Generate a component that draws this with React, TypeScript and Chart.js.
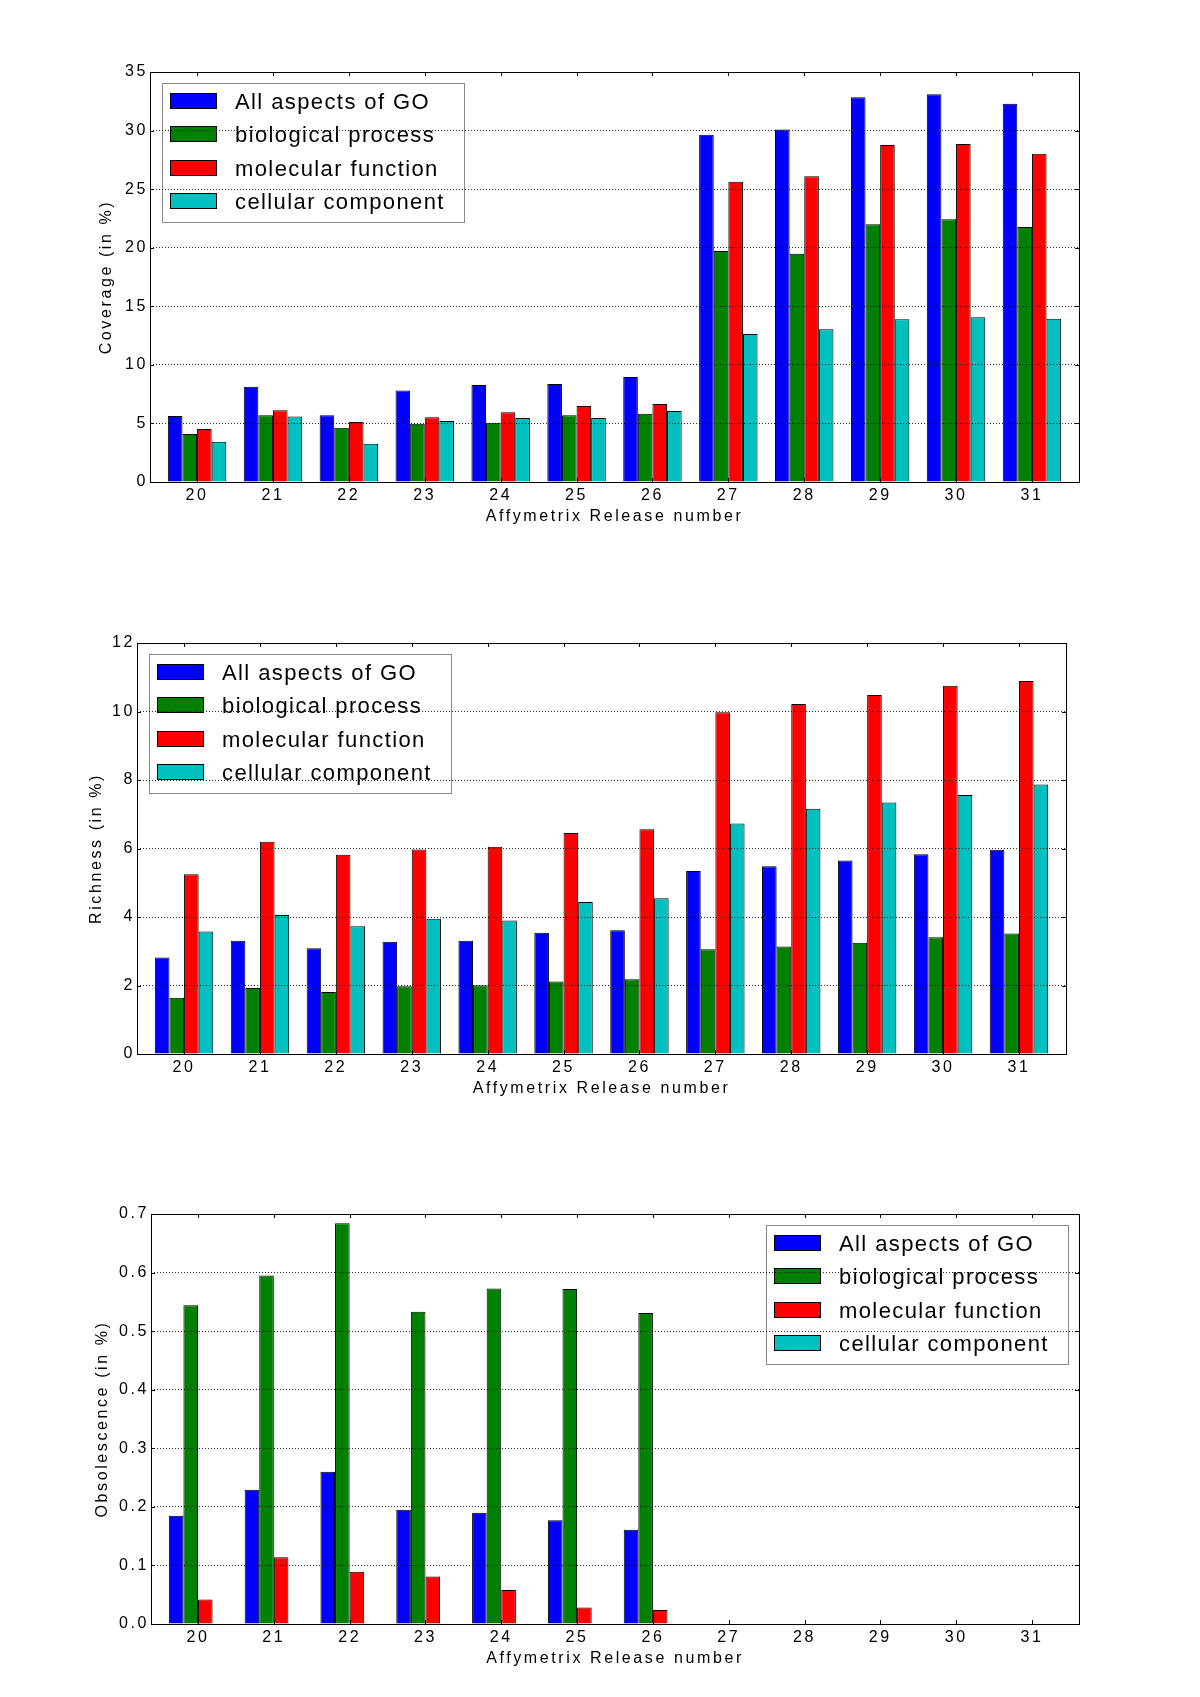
import React, { useEffect, useRef } from 'react';
import { Chart, registerables } from 'chart.js';

Chart.register(...registerables);

// ---------------- data ----------------
const releases = [20, 21, 22, 23, 24, 25, 26, 27, 28, 29, 30, 31];
const seriesNames = ['All aspects of GO', 'biological process', 'molecular function', 'cellular component'];
const seriesColors = ['#0000ff', '#008000', '#ff0000', '#00bfbf'];

const coverageAll = [5.63, 8.14, 5.69, 7.82, 8.28, 8.37, 8.96, 29.65, 30.1, 32.84, 33.1, 32.3];
const coverageBio = [4.1, 5.69, 4.64, 4.98, 5.06, 5.69, 5.83, 19.72, 19.49, 22.0, 22.42, 21.77];
const coverageMol = [4.52, 6.12, 5.12, 5.52, 5.95, 6.49, 6.66, 25.64, 26.1, 28.77, 28.85, 28.03];
const coverageCel = [3.44, 5.6, 3.27, 5.21, 5.46, 5.46, 6.06, 12.63, 13.03, 13.89, 14.06, 13.94];
const coverageTicks = [0, 5, 10, 15, 20, 25, 30, 35];
const coverageTickLabels = ['0', '5', '10', '15', '20', '25', '30', '35'];

const richnessAll = [2.82, 3.31, 3.09, 3.28, 3.31, 3.54, 3.61, 5.34, 5.48, 5.65, 5.83, 5.96];
const richnessBio = [1.64, 1.93, 1.81, 1.98, 2.01, 2.12, 2.18, 3.06, 3.14, 3.25, 3.41, 3.52];
const richnessMol = [5.25, 6.2, 5.82, 5.97, 6.05, 6.45, 6.56, 9.98, 10.22, 10.48, 10.75, 10.89];
const richnessCel = [3.58, 4.06, 3.73, 3.95, 3.9, 4.44, 4.55, 6.73, 7.16, 7.34, 7.56, 7.87];
const richnessTicks = [0, 2, 4, 6, 8, 10, 12];
const richnessTickLabels = ['0', '2', '4', '6', '8', '10', '12'];

const obsolAll = [0.185, 0.229, 0.26, 0.195, 0.19, 0.177, 0.161, 0, 0, 0, 0, 0];
const obsolBio = [0.544, 0.595, 0.684, 0.533, 0.573, 0.572, 0.531, 0, 0, 0, 0, 0];
const obsolMol = [0.042, 0.114, 0.089, 0.081, 0.058, 0.028, 0.024, 0, 0, 0, 0, 0];
const obsolCel = [0, 0, 0, 0, 0, 0, 0, 0, 0, 0, 0, 0];
const obsolTicks = [0, 0.1, 0.2, 0.3, 0.4, 0.5, 0.6, 0.7];
const obsolTickLabels = ['0.0', '0.1', '0.2', '0.3', '0.4', '0.5', '0.6', '0.7'];

const xTitle = 'Affymetrix Release number';

// ---------------- styling / layout ----------------
const FONT = "'Liberation Sans', Arial, Helvetica, sans-serif";
const AXIS_LS = '2.6px';
const LEGEND_LS = '1.4px';

type PanelCfg = {
  series: number[][];
  yTitle: string;
  yTicks: number[];
  yTickLabels: string[];
  yMax: number;
  legendCorner: 'left' | 'right';
  canvasTop: number;
  canvasHeight: number;
  padding: { left: number; right: number; top: number; bottom: number };
  yWidth: number;
};

const panels: PanelCfg[] = [
  {
    series: [coverageAll, coverageBio, coverageMol, coverageCel],
    yTitle: 'Coverage (in %)',
    yTicks: coverageTicks,
    yTickLabels: coverageTickLabels,
    yMax: 35,
    legendCorner: 'left',
    canvasTop: 0,
    canvasHeight: 566,
    padding: { left: 97, right: 121, top: 72, bottom: 40 },
    yWidth: 53,
  },
  {
    series: [richnessAll, richnessBio, richnessMol, richnessCel],
    yTitle: 'Richness (in %)',
    yTicks: richnessTicks,
    yTickLabels: richnessTickLabels,
    yMax: 12,
    legendCorner: 'left',
    canvasTop: 566,
    canvasHeight: 566,
    padding: { left: 87, right: 134, top: 77, bottom: 34 },
    yWidth: 50,
  },
  {
    series: [obsolAll, obsolBio, obsolMol, obsolCel],
    yTitle: 'Obsolescence (in %)',
    yTicks: obsolTicks,
    yTickLabels: obsolTickLabels,
    yMax: 0.7,
    legendCorner: 'right',
    canvasTop: 1132,
    canvasHeight: 565,
    padding: { left: 93, right: 121, top: 82, bottom: 29 },
    yWidth: 58,
  },
];

const mplPlugin = {
  id: 'mpl',
  beforeDraw(chart: any) {
    chart.ctx.letterSpacing = AXIS_LS;
  },
  afterDatasetsDraw(chart: any, _args: any, opts: any) {
    const { ctx, chartArea } = chart;
    const W = 302;
    const H = 139;
    const lx = opts.corner === 'right' ? Math.round(chartArea.right - 11 - W) : Math.round(chartArea.left + 12);
    const ly = Math.round(chartArea.top + 11);
    ctx.save();
    ctx.setLineDash([]);
    ctx.fillStyle = '#ffffff';
    ctx.fillRect(lx, ly, W, H);
    ctx.strokeStyle = '#888888';
    ctx.lineWidth = 1;
    ctx.strokeRect(lx + 0.5, ly + 0.5, W, H);
    chart.data.datasets.forEach((ds: any, i: number) => {
      const sy = Math.round(ly + 10 + i * 33.3);
      ctx.fillStyle = ds.backgroundColor;
      ctx.fillRect(lx + 8, sy, 47, 16);
      ctx.strokeStyle = '#000000';
      ctx.strokeRect(lx + 8.5, sy + 0.5, 46, 15);
      ctx.font = `22px ${FONT}`;
      ctx.letterSpacing = LEGEND_LS;
      ctx.fillStyle = '#000000';
      ctx.textAlign = 'left';
      ctx.textBaseline = 'alphabetic';
      ctx.fillText(ds.label, lx + 73, sy + 16);
    });
    ctx.restore();
  },
  afterDraw(chart: any) {
    const { ctx, chartArea, scales } = chart;
    const { left, right, top, bottom } = chartArea;
    ctx.save();
    ctx.setLineDash([]);
    ctx.strokeStyle = '#000000';
    ctx.lineWidth = 1;
    ctx.strokeRect(left + 0.5, top + 0.5, right - left, bottom - top);
    const TL = 4;
    ctx.beginPath();
    scales.x.ticks.forEach((t: any) => {
      const px = Math.round(scales.x.getPixelForValue(t.value)) + 0.5;
      ctx.moveTo(px, bottom);
      ctx.lineTo(px, bottom - TL);
      ctx.moveTo(px, top);
      ctx.lineTo(px, top + TL);
    });
    scales.y.ticks.forEach((t: any) => {
      const py = Math.round(scales.y.getPixelForValue(t.value)) + 0.5;
      ctx.moveTo(left, py);
      ctx.lineTo(left + TL, py);
      ctx.moveTo(right, py);
      ctx.lineTo(right - TL, py);
    });
    ctx.stroke();
    ctx.restore();
  },
};

function buildConfig(p: PanelCfg): any {
  return {
    type: 'bar',
    data: {
      datasets: p.series.map((vals, i) => ({
        label: seriesNames[i],
        data: releases.map((r, j) => ({ x: r, y: vals[j] })),
        backgroundColor: seriesColors[i],
        borderColor: '#000000',
        borderWidth: 1,
        borderSkipped: 'start',
        categoryPercentage: 0.77,
        barPercentage: 1.0,
      })),
    },
    options: {
      animation: false,
      responsive: false,
      events: [],
      layout: { padding: p.padding },
      plugins: {
        legend: { display: false },
        title: { display: false },
        tooltip: { enabled: false },
        mpl: { corner: p.legendCorner },
      },
      scales: {
        x: {
          type: 'linear',
          offset: false,
          min: 19.38,
          max: 31.62,
          afterBuildTicks: (scale: any) => {
            scale.ticks = releases.map((v) => ({ value: v }));
          },
          afterFit: (scale: any) => {
            scale.height = 44;
          },
          grid: { display: false, drawTicks: false },
          border: { display: false },
          ticks: {
            autoSkip: false,
            maxRotation: 0,
            padding: 4,
            color: '#000000',
            font: { family: FONT, size: 16 },
            callback: (v: any) => String(v),
          },
          title: {
            display: true,
            text: xTitle,
            color: '#000000',
            padding: { top: 0, bottom: 0 },
            font: { family: FONT, size: 16 },
          },
        },
        y: {
          type: 'linear',
          min: 0,
          max: p.yMax,
          afterBuildTicks: (scale: any) => {
            scale.ticks = p.yTicks.map((v) => ({ value: v }));
          },
          afterFit: (scale: any) => {
            scale.width = p.yWidth;
          },
          grid: { display: true, drawTicks: false, color: 'rgba(0,0,0,0.85)', lineWidth: 1, z: 1 },
          border: { display: false, dash: [1, 2] },
          ticks: {
            padding: 2,
            color: '#000000',
            font: { family: FONT, size: 16 },
            callback: (_v: any, i: number) => p.yTickLabels[i],
          },
          title: {
            display: true,
            text: p.yTitle,
            color: '#000000',
            padding: { top: 0, bottom: 0 },
            font: { family: FONT, size: 16 },
          },
        },
      },
    },
    plugins: [mplPlugin],
  };
}

function Panel({ cfg }: { cfg: PanelCfg }) {
  const ref = useRef<HTMLCanvasElement>(null);
  useEffect(() => {
    if (!ref.current) return;
    const chart = new Chart(ref.current, buildConfig(cfg));
    return () => chart.destroy();
  }, [cfg]);
  return (
    <canvas
      ref={ref}
      width={1200}
      height={cfg.canvasHeight}
      style={{
        position: 'absolute',
        left: 0,
        top: cfg.canvasTop,
        width: 1200,
        height: cfg.canvasHeight,
        display: 'block',
      }}
    />
  );
}

export default function App() {
  return (
    <div
      style={{
        position: 'absolute',
        left: 0,
        top: 0,
        width: 1200,
        height: 1697,
        overflow: 'hidden',
        background: '#ffffff',
      }}
    >
      {panels.map((p, i) => (
        <Panel key={i} cfg={p} />
      ))}
    </div>
  );
}
